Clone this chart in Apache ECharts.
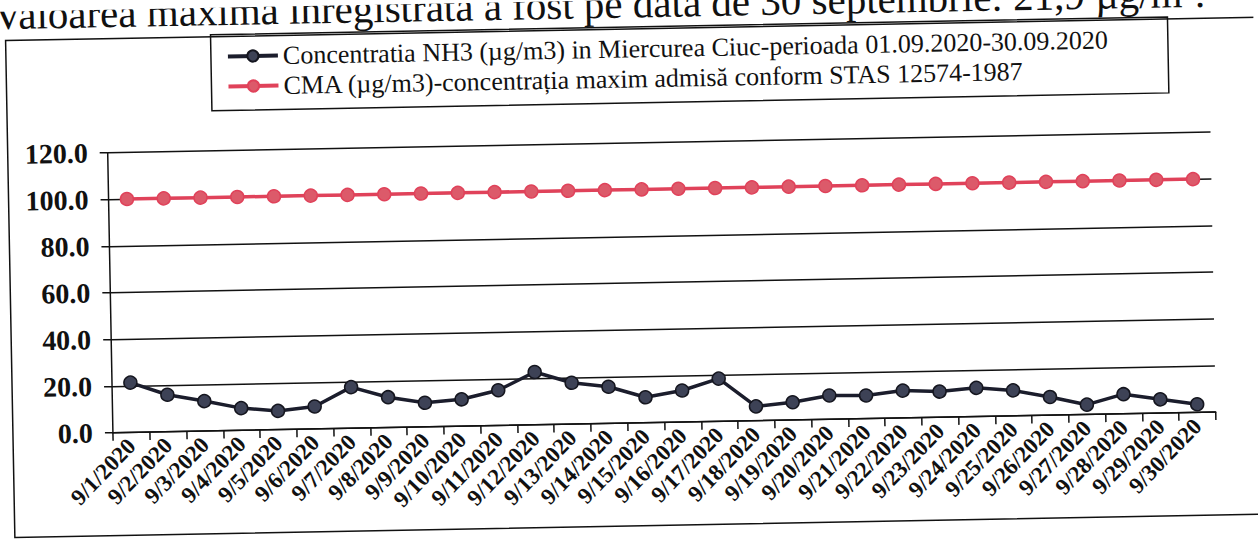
<!DOCTYPE html>
<html>
<head>
<meta charset="utf-8">
<script src="https://cdn.jsdelivr.net/npm/echarts@6/dist/echarts.min.js"></script>
<style>
html, body { margin: 0; padding: 0; background: #fff; overflow: hidden; }
#page { width: 1258px; height: 543px; transform: rotate(-1.07deg); transform-origin: 629px 271px; }
</style>
</head>
<body>
<div id="page"></div>
<script>
// values (µg/m3)
const dates = ['9/1/2020', '9/2/2020', '9/3/2020', '9/4/2020', '9/5/2020', '9/6/2020', '9/7/2020', '9/8/2020',
  '9/9/2020', '9/10/2020', '9/11/2020', '9/12/2020', '9/13/2020', '9/14/2020', '9/15/2020', '9/16/2020',
  '9/17/2020', '9/18/2020', '9/19/2020', '9/20/2020', '9/21/2020', '9/22/2020', '9/23/2020', '9/24/2020',
  '9/25/2020', '9/26/2020', '9/27/2020', '9/28/2020', '9/29/2020', '9/30/2020']
const nh3 = [21.3, 15.8, 12.8, 9.5, 8.0, 9.6, 17.6, 13.0, 10.3, 11.5, 15.1, 22.6, 17.7, 15.7, 10.9,
  13.5, 18.3, 6.1, 7.6, 10.2, 9.9, 11.7, 11.0, 12.3, 10.9, 7.8, 4.2, 8.4, 5.9, 3.5]
const cma = [100, 100, 100, 100, 100, 100, 100, 100, 100, 100, 100, 100, 100, 100, 100,
  100, 100, 100, 100, 100, 100, 100, 100, 100, 100, 100, 100, 100, 100, 100]

const nh3Name = 'Concentratia NH3 (µg/m3) in Miercurea Ciuc-perioada 01.09.2020-30.09.2020'
const cmaName = 'CMA (µg/m3)-concentrația maxim admisă conform STAS 12574-1987'
const serif = "'Liberation Serif', 'DejaVu Serif', serif"

var myChart = echarts.init(document.getElementById('page'), null, { renderer: 'svg' })
var option = {
  animation: false,
  backgroundColor: '#fff',
  graphic: [
    {
      type: 'rect',
      shape: { x: 10, y: 29, width: 1300, height: 497 },
      style: { fill: 'none', stroke: '#111', lineWidth: 1.5 },
      z: 0
    },
    {
      type: 'text',
      left: -2,
      top: -17,
      style: { text: 'Valoarea maxima inregistrata a fost pe data de 30 septembrie: 21,9 µg/m³.', font: '41px ' + serif, fill: '#111', lineHeight: 38 }
    },
    {
      type: 'text',
      left: 645,
      top: 538,
      style: { text: 'rezultate în urma determinărilor chimice efectuate', font: '42px ' + serif, fill: '#111', lineHeight: 42 }
    }
  ],
  legend: {
    orient: 'vertical',
    left: 215,
    top: 27,
    padding: [8, 60, 10, 15],
    itemGap: 2,
    itemWidth: 50,
    itemHeight: 14,
    borderColor: '#111',
    borderWidth: 1.5,
    textStyle: { fontFamily: serif, fontSize: 26, lineHeight: 28, color: '#111' },
    data: [
      { name: nh3Name, lineStyle: { width: 4 } },
      { name: cmaName, lineStyle: { width: 4 } }
    ]
  },
  grid: {
    left: 110,
    right: 45,
    top: 143,
    bottom: 120
  },
  xAxis: {
    type: 'category',
    data: dates,
    boundaryGap: true,
    axisLine: { lineStyle: { color: '#111', width: 1.5 } },
    axisTick: { show: true, length: 8, lineStyle: { color: '#111', width: 1.5 } },
    axisLabel: { rotate: 45, margin: 10, interval: 0, fontFamily: serif, fontSize: 23, fontWeight: 'bold', color: '#111' }
  },
  yAxis: {
    type: 'value',
    min: 0,
    max: 120,
    interval: 20,
    axisLine: { show: true, lineStyle: { color: '#111', width: 1.5 } },
    axisTick: { show: true, length: 8, lineStyle: { color: '#111', width: 1.5 } },
    splitLine: { lineStyle: { color: '#111', width: 1.5 } },
    axisLabel: {
      margin: 20,
      fontFamily: serif,
      fontSize: 28,
      fontWeight: 'bold',
      color: '#111',
      formatter: (v) => v.toFixed(1)
    }
  },
  series: [
    {
      name: nh3Name,
      type: 'line',
      data: nh3,
      symbol: 'circle',
      symbolSize: 13,
      lineStyle: { color: '#1b1d2c', width: 3.5 },
      itemStyle: { color: '#3d4256', borderColor: '#15161f', borderWidth: 1.5 },
      z: 3
    },
    {
      name: cmaName,
      type: 'line',
      data: cma,
      symbol: 'circle',
      symbolSize: 13,
      lineStyle: { color: '#e0425a', width: 3.5 },
      itemStyle: { color: '#dc5a6a', borderColor: '#e0425a', borderWidth: 1.5 },
      z: 2
    }
  ]
}
myChart.setOption(option)
</script>
</body>
</html>
